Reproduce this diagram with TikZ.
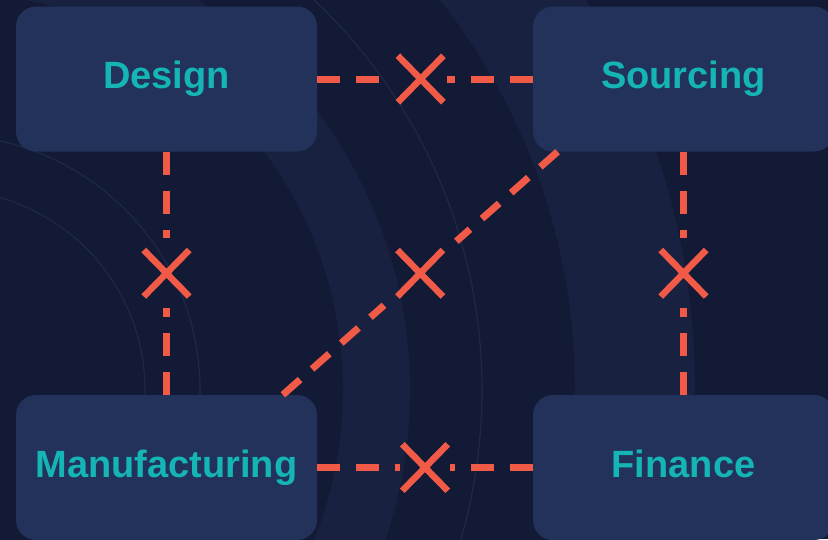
\documentclass[tikz,border=0pt]{standalone}
\usepackage{fontspec}
\setmainfont{Liberation Sans}
\usetikzlibrary{shapes.misc,calc}

\definecolor{bgnavy}{HTML}{131A35}
\definecolor{bgband}{HTML}{18213F}
\definecolor{ringline}{HTML}{1E2849}
\definecolor{boxnavy}{HTML}{22325A}
\definecolor{tealtext}{HTML}{15B4B5}
\definecolor{coral}{HTML}{F25A48}

\tikzset{
  gap/.style={rectangle, inner sep=0pt, minimum width=50pt, minimum height=70pt},
  blocker/.style={cross out, draw=coral, line width=6.5pt, minimum width=39pt, minimum height=40pt, inner sep=0pt}
}

\begin{document}
\begin{tikzpicture}[x=1pt,y=-1pt]

        % background rings
        \useasboundingbox (0,0) rectangle (828,539);
        \fill[bgnavy] (0,0) rectangle (828,539);
        \fill[bgband] (-55,390) circle[radius=750];
        \fill[bgnavy] (-55,390) circle[radius=630];
        \fill[bgband] (-55,390) circle[radius=465];
        \fill[bgnavy] (-55,390) circle[radius=398];
        \draw[ringline, line width=1.2pt] (-55,390) circle[radius=537]
          (-55,390) circle[radius=255] (-55,390) circle[radius=200];

        \begin{scope}[every node/.style={rectangle, rounded corners=20pt, fill=boxnavy,
            minimum width=301pt, minimum height=145pt, text=tealtext,
            font=\fontsize{38}{40}\selectfont\bfseries, text height=27pt, text depth=8pt}]
          \node (design)        at (166.5,79)  {Design};
          \node (sourcing)      at (683.5,79)  {Sourcing};
          \node (manufacturing) at (166.5,467.5) {Manufacturing};
          \node (finance)       at (683.5,467.5) {Finance};
        \end{scope}

        % gaps where the links are cut
        \node[gap, minimum width=53pt] (gDS) at ($(design.east)!.48!(sourcing.west)$) {};
        \node[gap] (gDM) at ($(design.south)!.5!(manufacturing.north)$) {};
        \node[gap] (gSF) at ($(sourcing.south)!.5!(finance.north)$) {};
        \node[gap, minimum width=72pt, minimum height=64pt] (gMS) at ($(manufacturing.32)!.5!(sourcing.210)$) {};
        \node[gap] (gMF) at ($(manufacturing.east)!.5!(finance.west)$) {};

        \begin{scope}[every edge/.style={draw=coral, line width=7pt, dash pattern=on 23pt off 16pt}]
          \path (design) edge (gDS) (sourcing) edge (gDS);
          \path (design) edge (gDM) (manufacturing) edge (gDM);
          \path (sourcing) edge (gSF) (finance) edge (gSF);
          \path (manufacturing.32) edge (gMS) (sourcing.210) edge (gMS);
          \path (manufacturing) edge (gMF) (finance) edge (gMF);
        \end{scope}

        \foreach \g in {gDS,gDM,gSF,gMS,gMF}
          \node[blocker] at (\g) {};

      \end{tikzpicture}
\end{document}
